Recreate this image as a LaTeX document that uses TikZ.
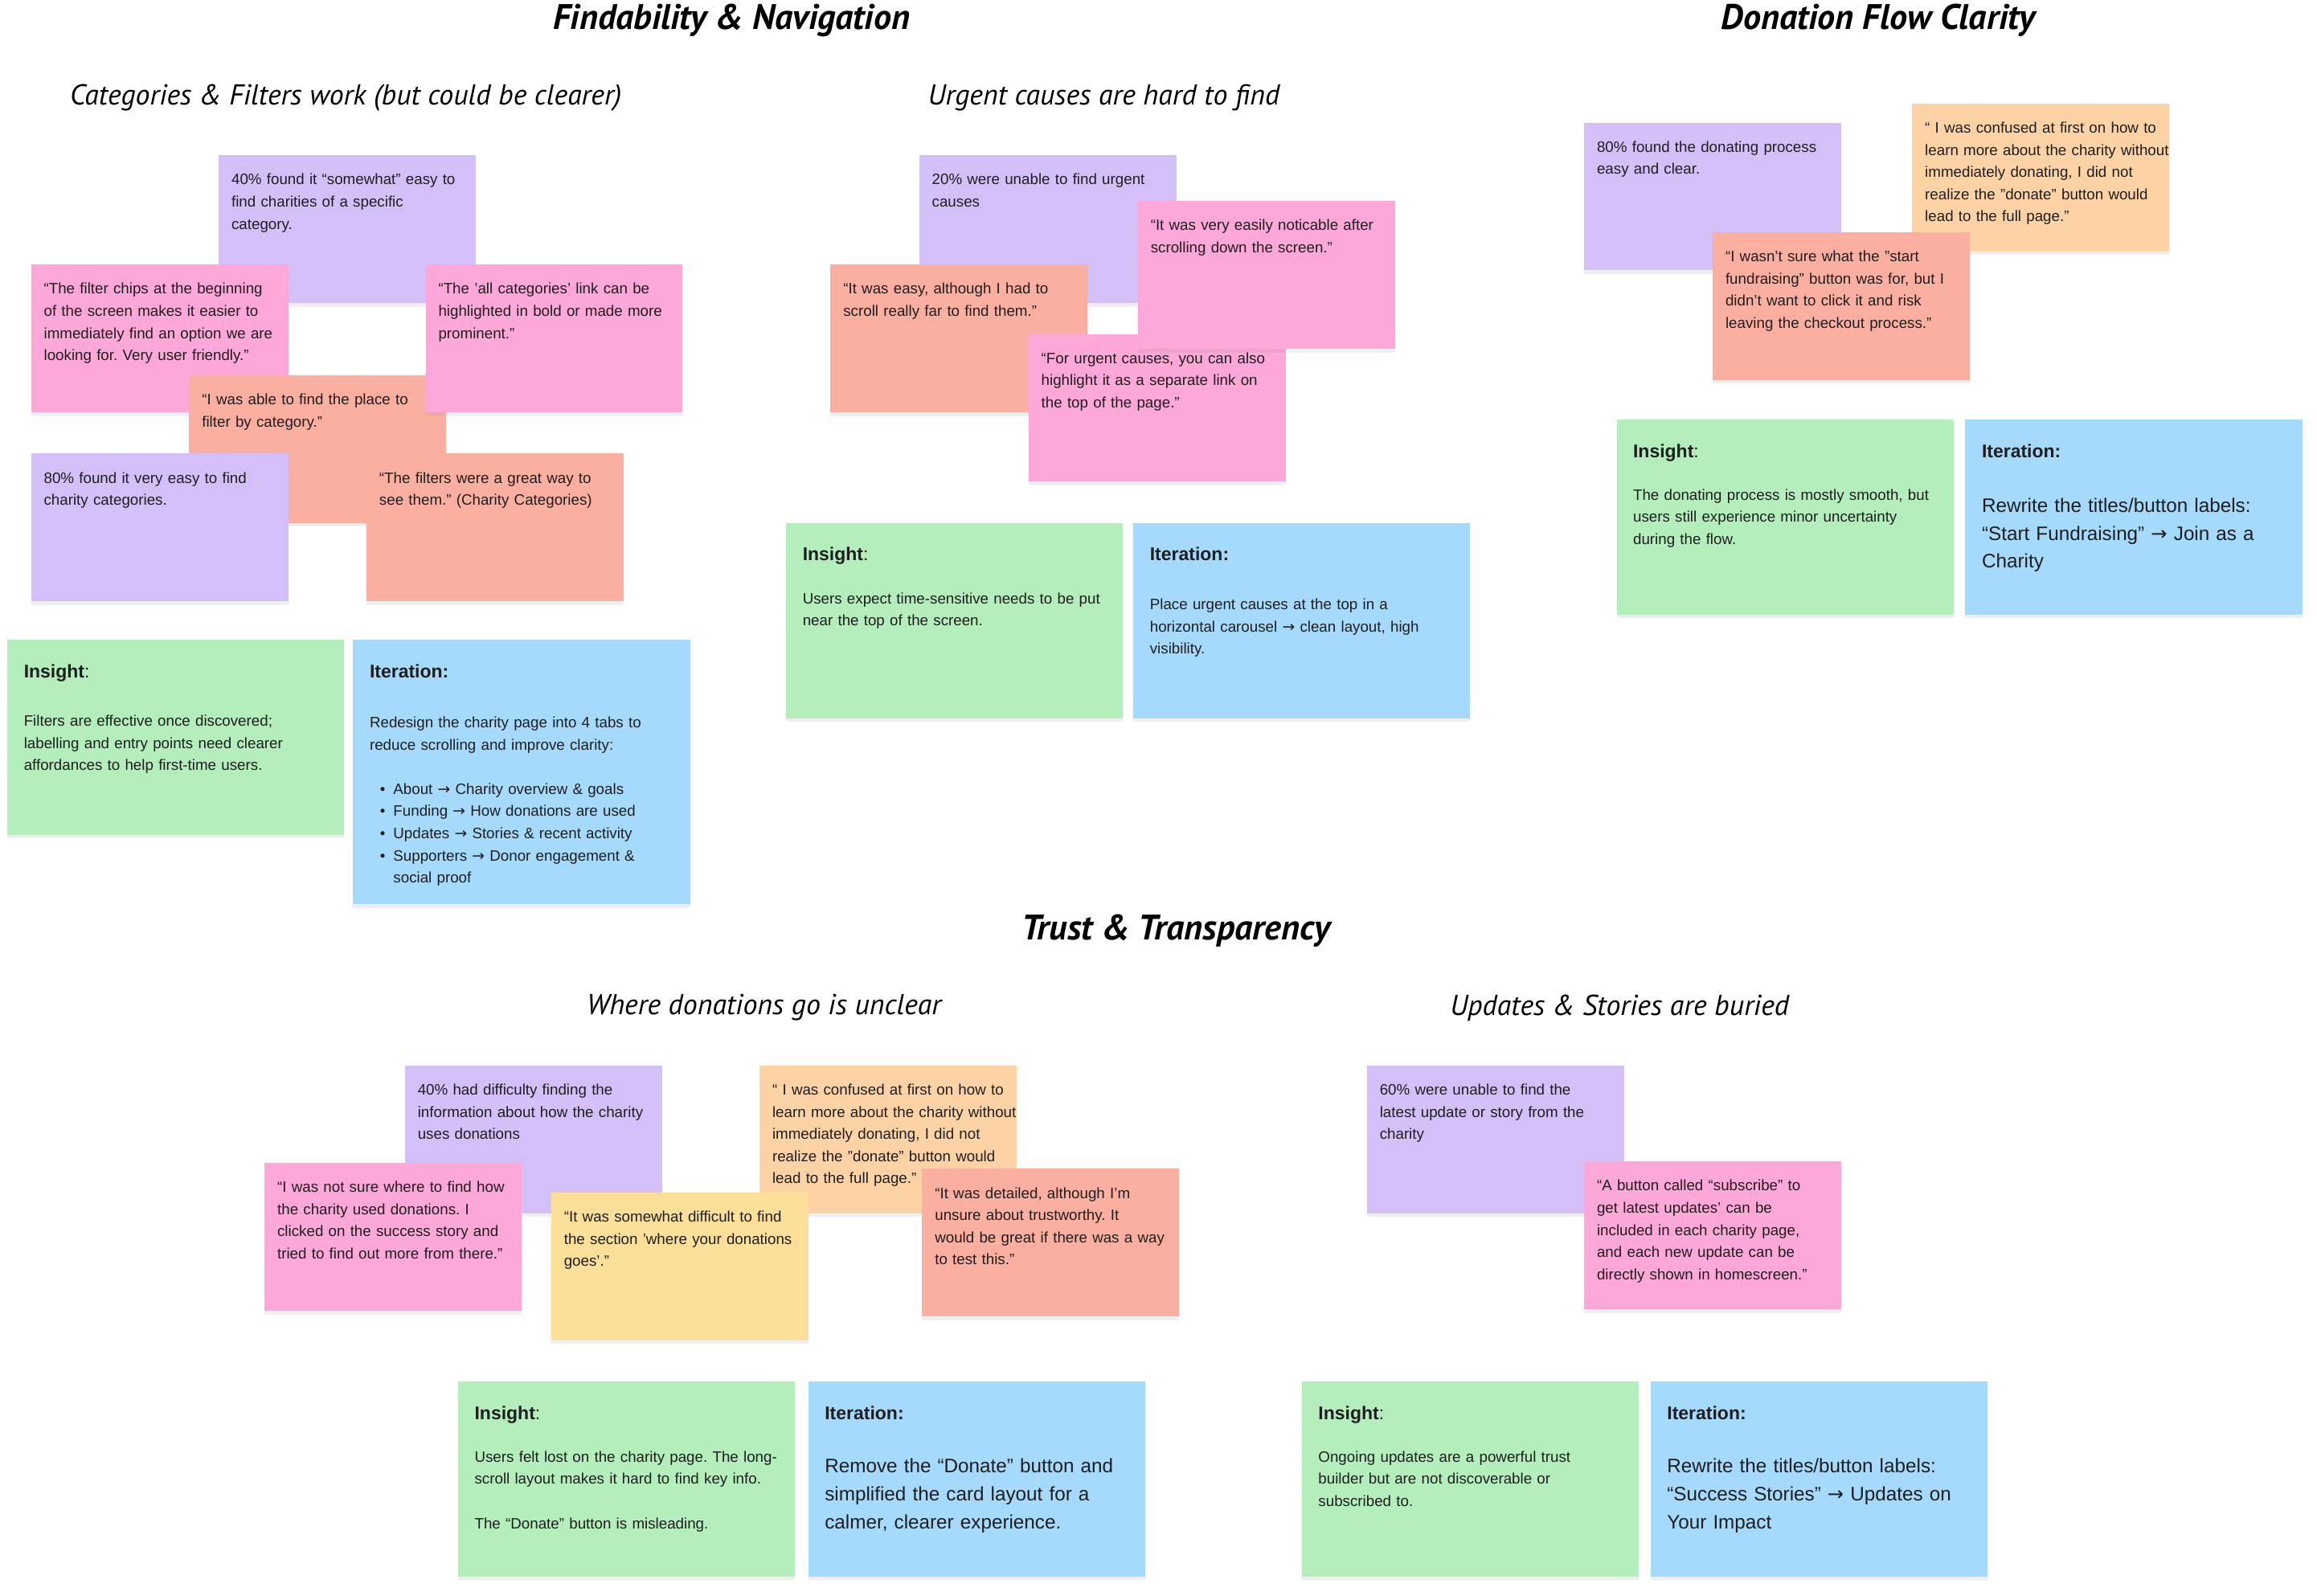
\documentclass[tikz,border=0pt]{standalone}
\usepackage{fontspec}
\setmainfont{Liberation Sans}
\newfontfamily\handfont{PT Sans}
\newfontfamily\arrfont{DejaVu Sans}
\usetikzlibrary{shadows}
\definecolor{cPurple}{HTML}{D4BFF9}
\definecolor{cPink}{HTML}{FDA8D9}
\definecolor{cSalmon}{HTML}{FBAFA1}
\definecolor{cOrange}{HTML}{FDD3A6}
\definecolor{cYellow}{HTML}{FCE09A}
\definecolor{cGreen}{HTML}{B3EEBC}
\definecolor{cBlue}{HTML}{A6DAFD}
\definecolor{cText}{HTML}{1E1E1E}
\tikzset{
  card/.style={anchor=north west, inner sep=0pt, outer sep=0pt, draw=none,
    drop shadow={opacity=0.12, shadow xshift=0pt, shadow yshift=-2.5pt}},
  txt/.style={anchor=base west, inner sep=0pt, align=left, text=cText,
    font=\fontsize{10.2}{15}\selectfont},
  bigtxt/.style={txt, font=\fontsize{13.2}{19}\selectfont},
  headtxt/.style={txt, font=\fontsize{12.5}{15}\selectfont},
  bigtitle/.style={anchor=center, inner sep=0pt, text=black,
    font=\handfont\bfseries\itshape\fontsize{24}{28}\selectfont},
  subtitle/.style={anchor=center, inner sep=0pt, text=black,
    font=\handfont\itshape\fontsize{19.5}{23}\selectfont},
}
% sticky note: name, colour, x, y, text
\newcommand\stickynote[5]{%
  \node[card, fill=#2, minimum width=174pt, minimum height=100pt] (#1) at (#3,#4) {};
  \node[txt, text width=170pt] (#1-t) at ([shift={(8.5pt,-20pt)}]#1.north west) {#5};
}
% wide card: name, colour, x, y, height, heading, body offset, body style, body
\newcommand\widecard[9]{%
  \node[card, fill=#2, minimum width=228pt, minimum height=#5pt] (#1) at (#3,#4) {};
  \node[headtxt, text width=214pt] (#1-h) at ([shift={(11pt,-25.5pt)}]#1.north west) {#6};
  \node[#8, text width=214pt] (#1-b) at ([shift={(11pt,-#7pt)}]#1.north west) {#9};
}
\newcommand\bul{\hspace*{7pt}\makebox[9pt][l]{•}}
\newcommand\arr{{\arrfont →}}
\frenchspacing
\begin{document}
\begin{tikzpicture}[x=1pt, y=-1pt]
\fill[white] (0,0) rectangle (1568,1080);
\useasboundingbox (0,0) rectangle (1568,1080);

% ---------- titles ----------
\node[bigtitle] (t1) at (495,14) {Findability \& Navigation};
\node[bigtitle] (t2) at (1271,14) {Donation Flow Clarity};
\node[bigtitle] (t3) at (796,630) {Trust \& Transparency};
\node[subtitle] (sa) at (234,66) {Categories \& Filters work (but could be clearer)};
\node[subtitle] (sb) at (747,66) {Urgent causes are hard to find};
\node[subtitle] (sd) at (517,682) {Where donations go is unclear};
\node[subtitle] (se) at (1096,682) {Updates \& Stories are buried};

% ---------- group A ----------
\stickynote{p1}{cPurple}{148}{105}{40\% found it “somewhat” easy to\\find charities of a specific\\category.}
\stickynote{k1}{cPink}{21}{179}{“The filter chips at the beginning\\of the screen makes it easier to\\immediately find an option we are\\looking for. Very user friendly.”}
\stickynote{s1}{cSalmon}{128}{254}{“I was able to find the place to\\filter by category.”}
\stickynote{k2}{cPink}{288}{179}{“The 'all categories' link can be\\highlighted in bold or made more\\prominent.”}
\stickynote{p2}{cPurple}{21}{307}{80\% found it very easy to find\\charity categories.}
\stickynote{s2}{cSalmon}{248}{307}{“The filters were a great way to\\see them.” (Charity Categories)}
\widecard{ia}{cGreen}{5}{433}{132}{\textbf{Insight}:}{58.5}{txt}{Filters are effective once discovered;\\labelling and entry points need clearer\\affordances to help first-time users.}
\widecard{ja}{cBlue}{239}{433}{179}{\textbf{Iteration:}}{59.5}{txt}{Redesign the charity page into 4 tabs to\\reduce scrolling and improve clarity:\\[15pt]
\bul About \arr{} Charity overview \& goals\\
\bul Funding \arr{} How donations are used\\
\bul Updates \arr{} Stories \& recent activity\\
\bul Supporters \arr{} Donor engagement \&\\
\hspace*{16pt}social proof}

% ---------- group B ----------
\stickynote{p3}{cPurple}{622}{105}{20\% were unable to find urgent\\causes}
\stickynote{s3}{cSalmon}{562}{179}{“It was easy, although I had to\\scroll really far to find them.”}
\stickynote{k4}{cPink}{696}{226}{“For urgent causes, you can also\\highlight it as a separate link on\\the top of the page.”}
\stickynote{k3}{cPink}{770}{136}{“It was very easily noticable after\\scrolling down the screen.”}
\widecard{ib}{cGreen}{532}{354}{132}{\textbf{Insight}:}{54.5}{txt}{Users expect time-sensitive needs to be put\\near the top of the screen.}
\widecard{jb}{cBlue}{767}{354}{132}{\textbf{Iteration:}}{58.5}{txt}{Place urgent causes at the top in a\\horizontal carousel \arr{} clean layout, high\\visibility.}

% ---------- group C ----------
\stickynote{p4}{cPurple}{1072}{83}{80\% found the donating process\\easy and clear.}
\stickynote{o1}{cOrange}{1294}{70}{“ I was confused at first on how to\\learn more about the charity without\\immediately donating, I did not\\realize the "donate" button would\\lead to the full page.”}
\stickynote{s4}{cSalmon}{1159}{157}{“I wasn't sure what the "start\\fundraising" button was for, but I\\didn't want to click it and risk\\leaving the checkout process.”}
\widecard{ic}{cGreen}{1094}{284}{132}{\textbf{Insight}:}{54.5}{txt}{The donating process is mostly smooth, but\\users still experience minor uncertainty\\during the flow.}
\widecard{jc}{cBlue}{1330}{284}{132}{\textbf{Iteration:}}{62.5}{bigtxt}{Rewrite the titles/button labels:\\“Start Fundraising” \arr{} Join as a\\Charity}

% ---------- group D ----------
\stickynote{p5}{cPurple}{274}{721}{40\% had difficulty finding the\\information about how the charity\\uses donations}
\stickynote{o2}{cOrange}{514}{721}{“ I was confused at first on how to\\learn more about the charity without\\immediately donating, I did not\\realize the "donate" button would\\lead to the full page.”}
\stickynote{k5}{cPink}{179}{787}{“I was not sure where to find how\\the charity used donations. I\\clicked on the success story and\\tried to find out more from there.”}
\stickynote{y1}{cYellow}{373}{807}{“It was somewhat difficult to find\\the section 'where your donations\\goes'.”}
\stickynote{s5}{cSalmon}{624}{791}{“It was detailed, although I'm\\unsure about trustworthy. It\\would be great if there was a way\\to test this.”}
\widecard{id}{cGreen}{310}{935}{132}{\textbf{Insight}:}{54.5}{txt}{Users felt lost on the charity page. The long-\\scroll layout makes it hard to find key info.\\[15pt]The “Donate” button is misleading.}
\widecard{jd}{cBlue}{547}{935}{132}{\textbf{Iteration:}}{61.5}{bigtxt}{Remove the “Donate” button and\\simplified the card layout for a\\calmer, clearer experience.}

% ---------- group E ----------
\stickynote{p6}{cPurple}{925}{721}{60\% were unable to find the\\latest update or story from the\\charity}
\stickynote{k6}{cPink}{1072}{786}{“A button called “subscribe” to\\get latest updates' can be\\included in each charity page,\\and each new update can be\\directly shown in homescreen.”}
\widecard{ie}{cGreen}{881}{935}{132}{\textbf{Insight}:}{54.5}{txt}{Ongoing updates are a powerful trust\\builder but are not discoverable or\\subscribed to.}
\widecard{je}{cBlue}{1117}{935}{132}{\textbf{Iteration:}}{61.5}{bigtxt}{Rewrite the titles/button labels:\\“Success Stories” \arr{} Updates on\\Your Impact}
\end{tikzpicture}
\end{document}
